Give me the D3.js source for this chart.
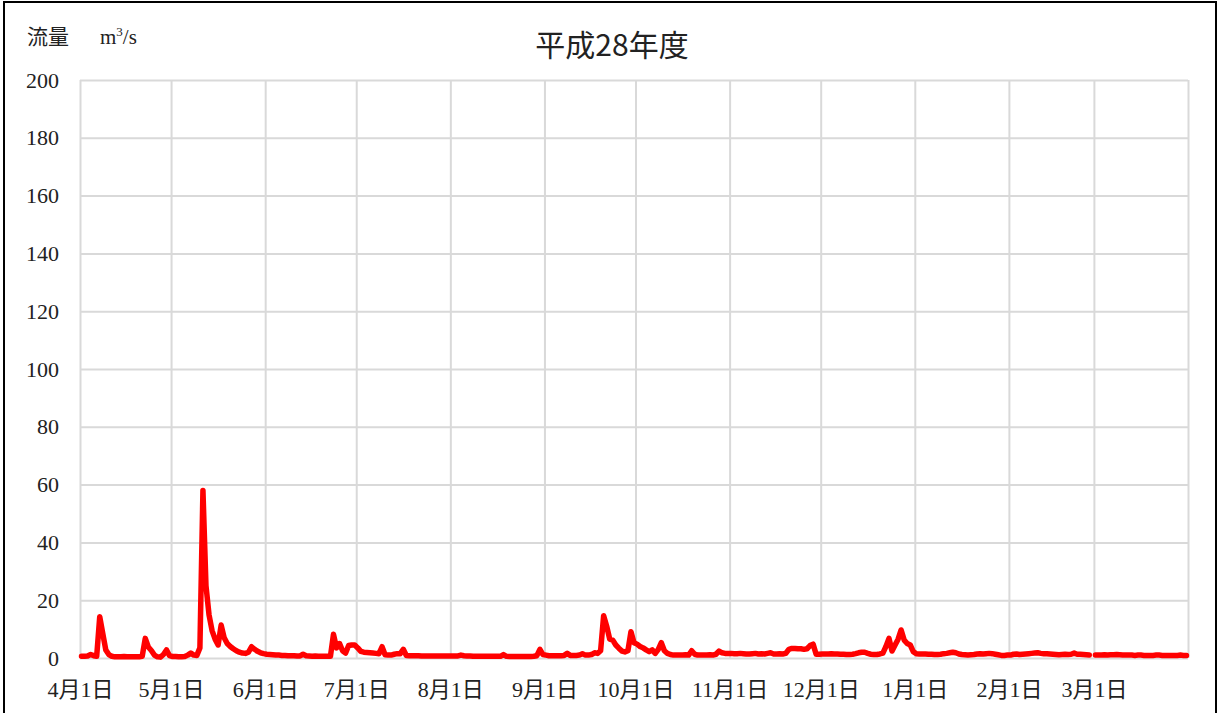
<!DOCTYPE html>
<html>
<head>
<meta charset="utf-8">
<script src="https://cdn.jsdelivr.net/npm/d3@7"></script>
<style>
    body { margin: 0; background: #fff; }
    text { font-family: "Liberation Serif", "Noto Sans CJK JP", serif; fill: #222; }
</style>
</head>
<body>
<div id="chart"></div>
<script>
// Width and height
var chart_width     =   1218;
var chart_height    =   713;

// daily flow (m3/s), fiscal year H28 : 2016-04-01 .. 2017-03-31
var flowApr = [0.6,0.6,0.7,1.2,0.8,0.6,14.3,8.5,2.8,1.2,0.6,0.4,0.4,0.4,0.5,0.4,0.4,0.4,0.4,0.4,0.6,6.8,3.8,2.6,1.0,0.4,0.3,1.2,2.8,0.8];
var flowMay = [0.5,0.5,0.4,0.4,0.5,1.0,1.7,1.0,0.9,3.5,58,25,15,9.5,6.5,4.5,11.4,7,5,4,3.2,2.5,2,1.7,1.6,2,3.9,3,2.3,1.8,1.5];
var flowJun = [1.3,1.2,1.1,1.0,1.0,0.9,0.9,0.8,0.8,0.8,0.7,0.7,1.3,0.8,0.7,0.6,0.7,0.6,0.6,0.6,0.6,0.6,8.2,3.5,5,2.5,1.7,4.3,4.5,4.5];
var flowJul = [3.5,2.3,2.0,1.9,1.8,1.7,1.6,1.5,3.9,1.1,1.0,1.0,1.3,1.5,1.5,3.0,0.9,0.8,0.8,0.8,0.8,0.7,0.7,0.7,0.7,0.7,0.7,0.7,0.7,0.7,0.7];
var flowAug = [0.7,0.7,0.7,1.0,0.8,0.7,0.7,0.6,0.6,0.6,0.6,0.6,0.6,0.6,0.6,0.6,0.6,1.2,0.6,0.5,0.5,0.5,0.5,0.5,0.5,0.5,0.5,0.6,0.8,3.0,1.2];
var flowSep = [1.0,0.8,0.8,0.8,0.8,0.8,0.9,1.6,0.9,0.9,0.9,1.0,1.5,1.0,1.0,1.2,1.8,1.6,2.5,14.6,11,6.5,6.2,4.5,3.4,2.4,2.1,2.5,9.1,5.3];
var flowOct = [4.8,4.0,3.5,2.8,2.2,2.8,1.6,3.0,5.3,2.5,1.6,1.2,1.0,1.0,1.0,1.0,1.1,1.0,2.5,1.3,1.0,1.0,1.0,1.0,1.1,1.0,1.3,2.4,1.8,1.6,1.6];
var flowNov = [1.6,1.5,1.5,1.6,1.5,1.4,1.4,1.5,1.6,1.4,1.5,1.4,1.6,1.8,1.4,1.4,1.5,1.4,1.6,3.0,3.3,3.3,3.2,3.2,3.0,3.2,4.3,4.8,1.3,1.3];
var flowDec = [1.4,1.4,1.4,1.5,1.4,1.4,1.3,1.3,1.2,1.2,1.3,1.5,1.8,2.0,2.0,1.6,1.3,1.2,1.2,1.4,1.7,4.0,6.8,2.4,4.5,6.5,9.7,6.2,5.0,4.5,2.2];
var flowJan = [1.5,1.4,1.4,1.4,1.3,1.3,1.2,1.2,1.3,1.5,1.6,1.8,2.0,1.8,1.4,1.2,1.1,1.0,1.1,1.2,1.4,1.5,1.4,1.5,1.6,1.5,1.3,1.1,0.9,0.9,1.0];
var flowFeb = [1.0,1.3,1.4,1.2,1.3,1.4,1.5,1.6,1.7,1.8,1.6,1.5,1.5,1.4,1.3,1.2,1.1,1.2,1.3,1.2,1.3,1.7,1.3,1.3,1.2,1.1,1.0,null];
var flowMar = [1.0,1.0,1.0,1.1,1.0,1.1,1.1,1.2,1.1,1.0,1.0,1.0,1.0,0.9,1.0,1.0,0.9,0.9,0.9,0.9,1.0,1.0,0.9,0.9,0.9,0.9,0.9,0.9,1.0,0.9,0.9];

var yTicks = [0, 20, 40, 60, 80, 100, 120, 140, 160, 180, 200];
var title_text = '平成28年度';

var flow = [].concat(flowApr, flowMay, flowJun, flowJul, flowAug, flowSep,
                     flowOct, flowNov, flowDec, flowJan, flowFeb, flowMar);
// each day sits in the middle of its slot, like a date axis in a spreadsheet
var data = flow.map(function(v, i){
    return { date: new Date(2016, 3, 1 + i, 12), value: v };
});

var plot = { left: 80, right: 1188, top: 80, bottom: 658 };

var x = d3.scaleTime()
    .domain([ new Date(2016, 3, 1), new Date(2017, 3, 1) ])
    .range([ plot.left, plot.right ]);
var y = d3.scaleLinear()
    .domain([ 0, 200 ])
    .range([ plot.bottom, plot.top ]);

// Create SVG
var svg = d3.select("#chart")
    .append("svg")
    .attr("width", chart_width)
    .attr("height", chart_height);

svg.append('rect')
    .attr('x', 4).attr('y', 2)
    .attr('width', 1212).attr('height', 740)
    .attr('fill', '#fff')
    .attr('stroke', '#000')
    .attr('stroke-width', 2);

// y grid + labels
var yAxis = svg.append('g')
    .attr('transform', 'translate(' + plot.left + ',0)')
    .call(d3.axisLeft(y)
        .tickValues(yTicks)
        .tickSizeInner(-(plot.right - plot.left))
        .tickSizeOuter(0)
        .tickPadding(21));
yAxis.select('.domain').remove();
yAxis.selectAll('line').attr('stroke', '#d9d9d9').attr('stroke-width', 2);
yAxis.selectAll('text').style('font-size', '22px').attr('fill', '#222');

// x grid + labels
var months = d3.timeMonth.range(new Date(2016, 3, 1), new Date(2017, 3, 2));
var xAxis = svg.append('g')
    .attr('transform', 'translate(0,' + plot.bottom + ')')
    .call(d3.axisBottom(x)
        .tickValues(months)
        .tickSizeInner(-(plot.bottom - plot.top))
        .tickSizeOuter(0)
        .tickPadding(23)
        .tickFormat(function(d, i){
            return i === months.length - 1 ? '' : (d.getMonth() + 1) + '月1日';
        }));
xAxis.select('.domain').remove();
xAxis.selectAll('line').attr('stroke', '#d9d9d9').attr('stroke-width', 2);
xAxis.selectAll('text').style('font-size', '22px').attr('fill', '#222');

// flow line
var line = d3.line()
    .defined(function(d){ return d.value !== null; })
    .x(function(d){ return x(d.date); })
    .y(function(d){ return y(d.value); });

svg.append('path')
    .datum(data)
    .attr('d', line)
    .attr('fill', 'none')
    .attr('stroke', '#ff0000')
    .attr('stroke-width', 5.5)
    .attr('stroke-linejoin', 'round')
    .attr('stroke-linecap', 'round');

// title
svg.append('text')
    .attr('x', 612)
    .attr('y', 56)
    .attr('text-anchor', 'middle')
    .style('font-size', '30px')
    .style('font-family', '"Noto Sans CJK JP", sans-serif')
    .text(title_text);

// unit label
var unit = svg.append('text')
    .attr('x', 27)
    .attr('y', 44)
    .style('font-size', '21px');
unit.append('tspan').text('流量');
unit.append('tspan').attr('x', 100).text('m');
unit.append('tspan').attr('dy', -8).style('font-size', '13px').text('3');
unit.append('tspan').attr('dy', 8).text('/s');
</script>
</body>
</html>
